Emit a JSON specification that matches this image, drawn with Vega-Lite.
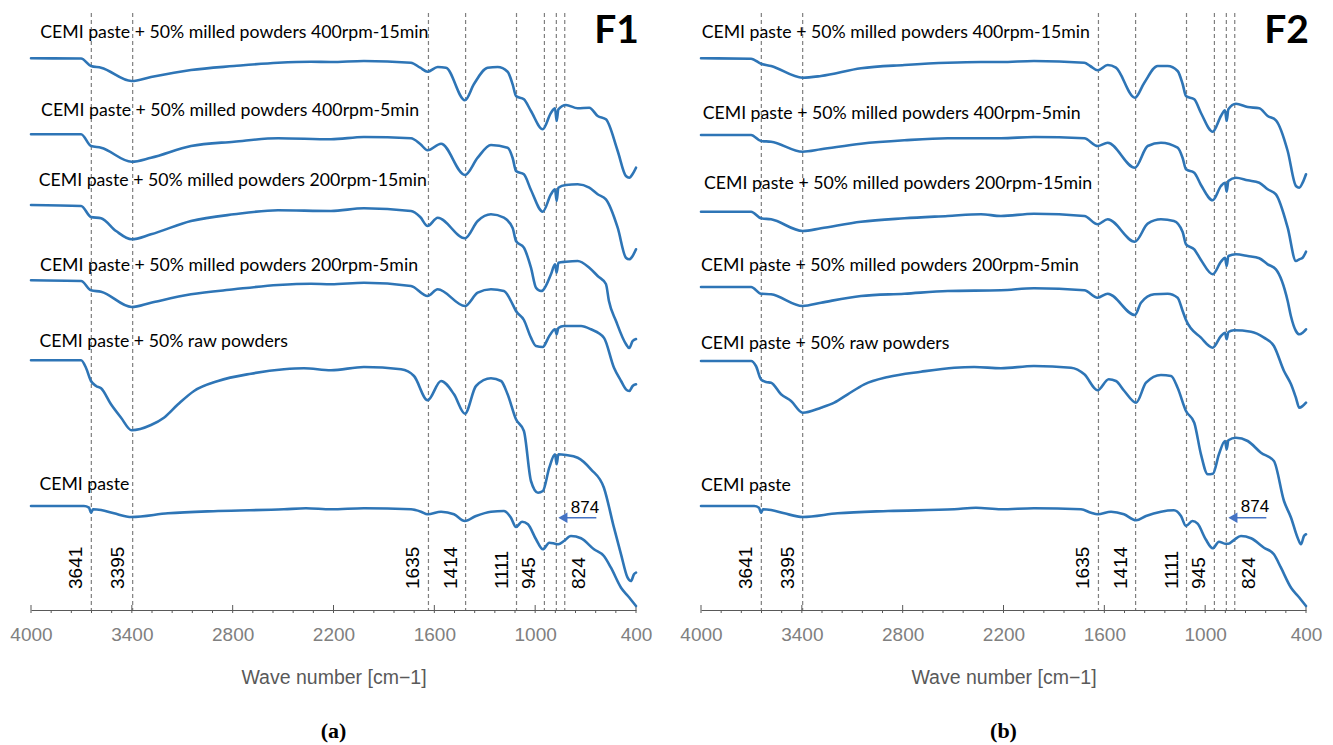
{
  "$schema": "https://vega.github.io/schema/vega-lite/v6.json",
  "background": "white",
  "padding": {"left": 9, "top": 12, "right": 5, "bottom": 3},
  "bounds": "flush",
  "spacing": 65,
  "config": {"view": {"stroke": null}, "axisX": {"grid": false, "labelOverlap": false}},
  "datasets": {
    "peaks": [
      {"wn": 3641, "label": "3641", "side": "left"},
      {"wn": 3395, "label": "3395", "side": "left"},
      {"wn": 1635, "label": "1635", "side": "left"},
      {"wn": 1414, "label": "1414", "side": "left"},
      {"wn": 1111, "label": "1111", "side": "left"},
      {"wn": 945, "label": "945", "side": "left"},
      {"wn": 874, "label": "874", "side": "arrow", "head": 835, "tail": 636},
      {"wn": 824, "label": "824", "side": "right"}
    ],
    "ticks": [
      {"wn": 4000, "major": true}, {"wn": 3880, "major": false}, {"wn": 3760, "major": false}, {"wn": 3640, "major": false}, {"wn": 3520, "major": false},
      {"wn": 3400, "major": true}, {"wn": 3280, "major": false}, {"wn": 3160, "major": false}, {"wn": 3040, "major": false}, {"wn": 2920, "major": false},
      {"wn": 2800, "major": true}, {"wn": 2680, "major": false}, {"wn": 2560, "major": false}, {"wn": 2440, "major": false}, {"wn": 2320, "major": false},
      {"wn": 2200, "major": true}, {"wn": 2080, "major": false}, {"wn": 1960, "major": false}, {"wn": 1840, "major": false}, {"wn": 1720, "major": false},
      {"wn": 1600, "major": true}, {"wn": 1480, "major": false}, {"wn": 1360, "major": false}, {"wn": 1240, "major": false}, {"wn": 1120, "major": false},
      {"wn": 1000, "major": true}, {"wn": 880, "major": false}, {"wn": 760, "major": false}, {"wn": 640, "major": false}, {"wn": 520, "major": false},
      {"wn": 400, "major": true}
    ],
    "labels": [
      {"panel": "F1", "text": "CEMI paste + 50% milled powders 400rpm-15min", "wn": 3945, "T": 577.3},
      {"panel": "F1", "text": "CEMI paste + 50% milled powders 400rpm-5min", "wn": 3940, "T": 499},
      {"panel": "F1", "text": "CEMI paste + 50% milled powders 200rpm-15min", "wn": 3954, "T": 429},
      {"panel": "F1", "text": "CEMI paste + 50% milled powders 200rpm-5min", "wn": 3946, "T": 344},
      {"panel": "F1", "text": "CEMI paste + 50% raw powders", "wn": 3950, "T": 268.3},
      {"panel": "F1", "text": "CEMI paste", "wn": 3950, "T": 124.7},
      {"panel": "F2", "text": "CEMI paste + 50% milled powders 400rpm-15min", "wn": 3996, "T": 576.7},
      {"panel": "F2", "text": "CEMI paste + 50% milled powders 400rpm-5min", "wn": 3990, "T": 495.7},
      {"panel": "F2", "text": "CEMI paste + 50% milled powders 200rpm-15min", "wn": 3982, "T": 426.3},
      {"panel": "F2", "text": "CEMI paste + 50% milled powders 200rpm-5min", "wn": 4000, "T": 344},
      {"panel": "F2", "text": "CEMI paste + 50% raw powders", "wn": 4000, "T": 266.3},
      {"panel": "F2", "text": "CEMI paste", "wn": 4000, "T": 124}
    ],
    "tags": [
      {"panel": "F1", "text": "F1", "wn": 400, "T": 579},
      {"panel": "F2", "text": "F2", "wn": 400, "T": 579}
    ],
    "spectra": [
      {"panel":"F1","sample":"400rpm-15min","wn":4000,"T":551.7},{"panel":"F1","sample":"400rpm-15min","wn":3702,"T":551.5},{"panel":"F1","sample":"400rpm-15min","wn":3643,"T":544},{"panel":"F1","sample":"400rpm-15min","wn":3583,"T":542.3},{"panel":"F1","sample":"400rpm-15min","wn":3401,"T":529},{"panel":"F1","sample":"400rpm-15min","wn":3286,"T":533},{"panel":"F1","sample":"400rpm-15min","wn":3048,"T":540},{"panel":"F1","sample":"400rpm-15min","wn":2792,"T":544},{"panel":"F1","sample":"400rpm-15min","wn":2530,"T":547.3},{"panel":"F1","sample":"400rpm-15min","wn":2334,"T":548.3},{"panel":"F1","sample":"400rpm-15min","wn":2215,"T":548},{"panel":"F1","sample":"400rpm-15min","wn":2019,"T":549},{"panel":"F1","sample":"400rpm-15min","wn":1739,"T":547.3},{"panel":"F1","sample":"400rpm-15min","wn":1684,"T":542.3},{"panel":"F1","sample":"400rpm-15min","wn":1640,"T":538.3},{"panel":"F1","sample":"400rpm-15min","wn":1580,"T":543},{"panel":"F1","sample":"400rpm-15min","wn":1531,"T":542.3},{"panel":"F1","sample":"400rpm-15min","wn":1418,"T":509.7},{"panel":"F1","sample":"400rpm-15min","wn":1364,"T":526},{"panel":"F1","sample":"400rpm-15min","wn":1283,"T":542.3},{"panel":"F1","sample":"400rpm-15min","wn":1223,"T":543},{"panel":"F1","sample":"400rpm-15min","wn":1164,"T":538.3},{"panel":"F1","sample":"400rpm-15min","wn":1134,"T":525.7},{"panel":"F1","sample":"400rpm-15min","wn":1114,"T":514},{"panel":"F1","sample":"400rpm-15min","wn":1067,"T":510.7},{"panel":"F1","sample":"400rpm-15min","wn":1025,"T":499},{"panel":"F1","sample":"400rpm-15min","wn":955,"T":480.7},{"panel":"F1","sample":"400rpm-15min","wn":906,"T":497.3},{"panel":"F1","sample":"400rpm-15min","wn":882,"T":501.7},{"panel":"F1","sample":"400rpm-15min","wn":872,"T":489},{"panel":"F1","sample":"400rpm-15min","wn":862,"T":500.7},{"panel":"F1","sample":"400rpm-15min","wn":817,"T":505},{"panel":"F1","sample":"400rpm-15min","wn":747,"T":501.7},{"panel":"F1","sample":"400rpm-15min","wn":678,"T":502.3},{"panel":"F1","sample":"400rpm-15min","wn":628,"T":494},{"panel":"F1","sample":"400rpm-15min","wn":579,"T":490.7},{"panel":"F1","sample":"400rpm-15min","wn":509,"T":459},{"panel":"F1","sample":"400rpm-15min","wn":460,"T":434},{"panel":"F1","sample":"400rpm-15min","wn":440,"T":432.3},{"panel":"F1","sample":"400rpm-15min","wn":420,"T":436},{"panel":"F1","sample":"400rpm-15min","wn":400,"T":442.3},
      {"panel":"F1","sample":"400rpm-5min","wn":4000,"T":475.7},{"panel":"F1","sample":"400rpm-5min","wn":3702,"T":475.7},{"panel":"F1","sample":"400rpm-5min","wn":3643,"T":464},{"panel":"F1","sample":"400rpm-5min","wn":3583,"T":462.3},{"panel":"F1","sample":"400rpm-5min","wn":3401,"T":448.3},{"panel":"F1","sample":"400rpm-5min","wn":3286,"T":452.3},{"panel":"F1","sample":"400rpm-5min","wn":3048,"T":464},{"panel":"F1","sample":"400rpm-5min","wn":2792,"T":468.3},{"panel":"F1","sample":"400rpm-5min","wn":2530,"T":471.7},{"panel":"F1","sample":"400rpm-5min","wn":2215,"T":470.7},{"panel":"F1","sample":"400rpm-5min","wn":2019,"T":473},{"panel":"F1","sample":"400rpm-5min","wn":1739,"T":471.7},{"panel":"F1","sample":"400rpm-5min","wn":1684,"T":466},{"panel":"F1","sample":"400rpm-5min","wn":1640,"T":459.7},{"panel":"F1","sample":"400rpm-5min","wn":1560,"T":466.3},{"panel":"F1","sample":"400rpm-5min","wn":1418,"T":435},{"panel":"F1","sample":"400rpm-5min","wn":1342,"T":452.3},{"panel":"F1","sample":"400rpm-5min","wn":1263,"T":465},{"panel":"F1","sample":"400rpm-5min","wn":1164,"T":462.3},{"panel":"F1","sample":"400rpm-5min","wn":1134,"T":452},{"panel":"F1","sample":"400rpm-5min","wn":1114,"T":439},{"panel":"F1","sample":"400rpm-5min","wn":1067,"T":435.7},{"panel":"F1","sample":"400rpm-5min","wn":1025,"T":420},{"panel":"F1","sample":"400rpm-5min","wn":955,"T":398.3},{"panel":"F1","sample":"400rpm-5min","wn":906,"T":415.7},{"panel":"F1","sample":"400rpm-5min","wn":882,"T":420.7},{"panel":"F1","sample":"400rpm-5min","wn":872,"T":409},{"panel":"F1","sample":"400rpm-5min","wn":862,"T":422.3},{"panel":"F1","sample":"400rpm-5min","wn":817,"T":425},{"panel":"F1","sample":"400rpm-5min","wn":747,"T":425.7},{"panel":"F1","sample":"400rpm-5min","wn":678,"T":422.3},{"panel":"F1","sample":"400rpm-5min","wn":628,"T":415.7},{"panel":"F1","sample":"400rpm-5min","wn":579,"T":410.7},{"panel":"F1","sample":"400rpm-5min","wn":509,"T":382.3},{"panel":"F1","sample":"400rpm-5min","wn":460,"T":352.3},{"panel":"F1","sample":"400rpm-5min","wn":440,"T":350.7},{"panel":"F1","sample":"400rpm-5min","wn":420,"T":354},{"panel":"F1","sample":"400rpm-5min","wn":400,"T":360.7},
      {"panel":"F1","sample":"200rpm-15min","wn":4000,"T":405},{"panel":"F1","sample":"200rpm-15min","wn":3702,"T":404},{"panel":"F1","sample":"200rpm-15min","wn":3643,"T":393},{"panel":"F1","sample":"200rpm-15min","wn":3583,"T":391.7},{"panel":"F1","sample":"200rpm-15min","wn":3494,"T":379},{"panel":"F1","sample":"200rpm-15min","wn":3401,"T":370.7},{"panel":"F1","sample":"200rpm-15min","wn":3286,"T":375.7},{"panel":"F1","sample":"200rpm-15min","wn":3048,"T":389},{"panel":"F1","sample":"200rpm-15min","wn":2792,"T":395.7},{"panel":"F1","sample":"200rpm-15min","wn":2530,"T":399.7},{"panel":"F1","sample":"200rpm-15min","wn":2215,"T":399},{"panel":"F1","sample":"200rpm-15min","wn":2019,"T":401.7},{"panel":"F1","sample":"200rpm-15min","wn":1739,"T":399},{"panel":"F1","sample":"200rpm-15min","wn":1684,"T":393},{"panel":"F1","sample":"200rpm-15min","wn":1640,"T":384},{"panel":"F1","sample":"200rpm-15min","wn":1580,"T":392.3},{"panel":"F1","sample":"200rpm-15min","wn":1418,"T":371.7},{"panel":"F1","sample":"200rpm-15min","wn":1342,"T":389},{"panel":"F1","sample":"200rpm-15min","wn":1263,"T":395.7},{"panel":"F1","sample":"200rpm-15min","wn":1186,"T":392.3},{"panel":"F1","sample":"200rpm-15min","wn":1134,"T":382},{"panel":"F1","sample":"200rpm-15min","wn":1114,"T":369},{"panel":"F1","sample":"200rpm-15min","wn":1067,"T":362.3},{"panel":"F1","sample":"200rpm-15min","wn":1025,"T":342.3},{"panel":"F1","sample":"200rpm-15min","wn":995,"T":322.3},{"panel":"F1","sample":"200rpm-15min","wn":965,"T":319},{"panel":"F1","sample":"200rpm-15min","wn":954,"T":319.7},{"panel":"F1","sample":"200rpm-15min","wn":906,"T":335.7},{"panel":"F1","sample":"200rpm-15min","wn":882,"T":345.7},{"panel":"F1","sample":"200rpm-15min","wn":872,"T":337.3},{"panel":"F1","sample":"200rpm-15min","wn":862,"T":347.3},{"panel":"F1","sample":"200rpm-15min","wn":817,"T":348.3},{"panel":"F1","sample":"200rpm-15min","wn":747,"T":349},{"panel":"F1","sample":"200rpm-15min","wn":678,"T":342.3},{"panel":"F1","sample":"200rpm-15min","wn":628,"T":334},{"panel":"F1","sample":"200rpm-15min","wn":579,"T":326},{"panel":"F1","sample":"200rpm-15min","wn":561,"T":309},{"panel":"F1","sample":"200rpm-15min","wn":519,"T":289},{"panel":"F1","sample":"200rpm-15min","wn":460,"T":266},{"panel":"F1","sample":"200rpm-15min","wn":440,"T":262},{"panel":"F1","sample":"200rpm-15min","wn":420,"T":269},{"panel":"F1","sample":"200rpm-15min","wn":400,"T":271},
      {"panel":"F1","sample":"200rpm-5min","wn":4000,"T":329.7},{"panel":"F1","sample":"200rpm-5min","wn":3702,"T":329},{"panel":"F1","sample":"200rpm-5min","wn":3643,"T":319.7},{"panel":"F1","sample":"200rpm-5min","wn":3583,"T":318.3},{"panel":"F1","sample":"200rpm-5min","wn":3401,"T":303},{"panel":"F1","sample":"200rpm-5min","wn":3286,"T":307.3},{"panel":"F1","sample":"200rpm-5min","wn":3048,"T":315.7},{"panel":"F1","sample":"200rpm-5min","wn":2792,"T":320.7},{"panel":"F1","sample":"200rpm-5min","wn":2530,"T":325},{"panel":"F1","sample":"200rpm-5min","wn":2334,"T":326.3},{"panel":"F1","sample":"200rpm-5min","wn":2215,"T":325.7},{"panel":"F1","sample":"200rpm-5min","wn":2019,"T":327.3},{"panel":"F1","sample":"200rpm-5min","wn":1739,"T":324},{"panel":"F1","sample":"200rpm-5min","wn":1640,"T":314},{"panel":"F1","sample":"200rpm-5min","wn":1580,"T":320.7},{"panel":"F1","sample":"200rpm-5min","wn":1418,"T":304},{"panel":"F1","sample":"200rpm-5min","wn":1342,"T":317.3},{"panel":"F1","sample":"200rpm-5min","wn":1263,"T":320.7},{"panel":"F1","sample":"200rpm-5min","wn":1186,"T":319},{"panel":"F1","sample":"200rpm-5min","wn":1134,"T":305.7},{"panel":"F1","sample":"200rpm-5min","wn":1114,"T":299},{"panel":"F1","sample":"200rpm-5min","wn":1067,"T":290},{"panel":"F1","sample":"200rpm-5min","wn":1025,"T":272.3},{"panel":"F1","sample":"200rpm-5min","wn":995,"T":264},{"panel":"F1","sample":"200rpm-5min","wn":955,"T":263},{"panel":"F1","sample":"200rpm-5min","wn":916,"T":274},{"panel":"F1","sample":"200rpm-5min","wn":882,"T":280.7},{"panel":"F1","sample":"200rpm-5min","wn":872,"T":275.7},{"panel":"F1","sample":"200rpm-5min","wn":862,"T":282},{"panel":"F1","sample":"200rpm-5min","wn":829,"T":284},{"panel":"F1","sample":"200rpm-5min","wn":727,"T":284},{"panel":"F1","sample":"200rpm-5min","wn":668,"T":280.7},{"panel":"F1","sample":"200rpm-5min","wn":591,"T":272.3},{"panel":"F1","sample":"200rpm-5min","wn":531,"T":242.3},{"panel":"F1","sample":"200rpm-5min","wn":489,"T":229},{"panel":"F1","sample":"200rpm-5min","wn":460,"T":220.7},{"panel":"F1","sample":"200rpm-5min","wn":440,"T":219},{"panel":"F1","sample":"200rpm-5min","wn":420,"T":224},{"panel":"F1","sample":"200rpm-5min","wn":400,"T":225.7},
      {"panel":"F1","sample":"raw","wn":4000,"T":249.7},{"panel":"F1","sample":"raw","wn":3702,"T":249.7},{"panel":"F1","sample":"raw","wn":3673,"T":242.3},{"panel":"F1","sample":"raw","wn":3643,"T":229},{"panel":"F1","sample":"raw","wn":3613,"T":224},{"panel":"F1","sample":"raw","wn":3583,"T":221.7},{"panel":"F1","sample":"raw","wn":3524,"T":205.7},{"panel":"F1","sample":"raw","wn":3464,"T":192.3},{"panel":"F1","sample":"raw","wn":3401,"T":179.7},{"panel":"F1","sample":"raw","wn":3286,"T":185},{"panel":"F1","sample":"raw","wn":3209,"T":192.3},{"panel":"F1","sample":"raw","wn":3125,"T":205.7},{"panel":"F1","sample":"raw","wn":3030,"T":219},{"panel":"F1","sample":"raw","wn":2887,"T":229},{"panel":"F1","sample":"raw","wn":2691,"T":236.3},{"panel":"F1","sample":"raw","wn":2495,"T":240.7},{"panel":"F1","sample":"raw","wn":2376,"T":241.7},{"panel":"F1","sample":"raw","wn":2215,"T":239.7},{"panel":"F1","sample":"raw","wn":2019,"T":243},{"panel":"F1","sample":"raw","wn":1798,"T":240.7},{"panel":"F1","sample":"raw","wn":1721,"T":234},{"panel":"F1","sample":"raw","wn":1640,"T":209.7},{"panel":"F1","sample":"raw","wn":1560,"T":229},{"panel":"F1","sample":"raw","wn":1483,"T":215.7},{"panel":"F1","sample":"raw","wn":1418,"T":196.3},{"panel":"F1","sample":"raw","wn":1352,"T":224},{"panel":"F1","sample":"raw","wn":1263,"T":231.7},{"panel":"F1","sample":"raw","wn":1203,"T":229},{"panel":"F1","sample":"raw","wn":1164,"T":215.7},{"panel":"F1","sample":"raw","wn":1114,"T":190.7},{"panel":"F1","sample":"raw","wn":1067,"T":179},{"panel":"F1","sample":"raw","wn":1025,"T":129},{"panel":"F1","sample":"raw","wn":983,"T":117.3},{"panel":"F1","sample":"raw","wn":954,"T":119},{"panel":"F1","sample":"raw","wn":916,"T":142.3},{"panel":"F1","sample":"raw","wn":882,"T":155.7},{"panel":"F1","sample":"raw","wn":872,"T":145.7},{"panel":"F1","sample":"raw","wn":862,"T":155.7},{"panel":"F1","sample":"raw","wn":817,"T":155},{"panel":"F1","sample":"raw","wn":747,"T":152.3},{"panel":"F1","sample":"raw","wn":668,"T":140.7},{"panel":"F1","sample":"raw","wn":591,"T":122.3},{"panel":"F1","sample":"raw","wn":531,"T":82.3},{"panel":"F1","sample":"raw","wn":489,"T":55.7},{"panel":"F1","sample":"raw","wn":450,"T":32.3},{"panel":"F1","sample":"raw","wn":430,"T":29},{"panel":"F1","sample":"raw","wn":412,"T":35.7},{"panel":"F1","sample":"raw","wn":400,"T":37.3},
      {"panel":"F1","sample":"CEMI","wn":4000,"T":104},{"panel":"F1","sample":"CEMI","wn":3685,"T":104},{"panel":"F1","sample":"CEMI","wn":3655,"T":102.3},{"panel":"F1","sample":"CEMI","wn":3643,"T":97.3},{"panel":"F1","sample":"CEMI","wn":3631,"T":100.7},{"panel":"F1","sample":"CEMI","wn":3583,"T":100},{"panel":"F1","sample":"CEMI","wn":3506,"T":96.7},{"panel":"F1","sample":"CEMI","wn":3401,"T":93},{"panel":"F1","sample":"CEMI","wn":3185,"T":96.7},{"panel":"F1","sample":"CEMI","wn":2887,"T":99},{"panel":"F1","sample":"CEMI","wn":2495,"T":100.7},{"panel":"F1","sample":"CEMI","wn":2364,"T":101.7},{"panel":"F1","sample":"CEMI","wn":2215,"T":100.7},{"panel":"F1","sample":"CEMI","wn":2019,"T":101.7},{"panel":"F1","sample":"CEMI","wn":1739,"T":100.7},{"panel":"F1","sample":"CEMI","wn":1679,"T":98.3},{"panel":"F1","sample":"CEMI","wn":1640,"T":95.7},{"panel":"F1","sample":"CEMI","wn":1560,"T":98.3},{"panel":"F1","sample":"CEMI","wn":1483,"T":95.7},{"panel":"F1","sample":"CEMI","wn":1418,"T":89},{"panel":"F1","sample":"CEMI","wn":1352,"T":94},{"panel":"F1","sample":"CEMI","wn":1263,"T":98.3},{"panel":"F1","sample":"CEMI","wn":1186,"T":99},{"panel":"F1","sample":"CEMI","wn":1144,"T":92.3},{"panel":"F1","sample":"CEMI","wn":1114,"T":83},{"panel":"F1","sample":"CEMI","wn":1078,"T":88.3},{"panel":"F1","sample":"CEMI","wn":1043,"T":85.7},{"panel":"F1","sample":"CEMI","wn":995,"T":70.7},{"panel":"F1","sample":"CEMI","wn":954,"T":60.7},{"panel":"F1","sample":"CEMI","wn":916,"T":67.3},{"panel":"F1","sample":"CEMI","wn":882,"T":66.3},{"panel":"F1","sample":"CEMI","wn":862,"T":65.7},{"panel":"F1","sample":"CEMI","wn":829,"T":69},{"panel":"F1","sample":"CEMI","wn":787,"T":74},{"panel":"F1","sample":"CEMI","wn":727,"T":71.7},{"panel":"F1","sample":"CEMI","wn":650,"T":60.7},{"panel":"F1","sample":"CEMI","wn":591,"T":54},{"panel":"F1","sample":"CEMI","wn":549,"T":42.3},{"panel":"F1","sample":"CEMI","wn":489,"T":22.3},{"panel":"F1","sample":"CEMI","wn":448,"T":14},{"panel":"F1","sample":"CEMI","wn":400,"T":4},
      {"panel":"F2","sample":"400rpm-15min","wn":4000,"T":551.7},{"panel":"F2","sample":"400rpm-15min","wn":3702,"T":551.3},{"panel":"F2","sample":"400rpm-15min","wn":3643,"T":546.3},{"panel":"F2","sample":"400rpm-15min","wn":3583,"T":544},{"panel":"F2","sample":"400rpm-15min","wn":3395,"T":532.3},{"panel":"F2","sample":"400rpm-15min","wn":3286,"T":534},{"panel":"F2","sample":"400rpm-15min","wn":3048,"T":541.7},{"panel":"F2","sample":"400rpm-15min","wn":2790,"T":545},{"panel":"F2","sample":"400rpm-15min","wn":2532,"T":547.3},{"panel":"F2","sample":"400rpm-15min","wn":2334,"T":548},{"panel":"F2","sample":"400rpm-15min","wn":2215,"T":548},{"panel":"F2","sample":"400rpm-15min","wn":2019,"T":549},{"panel":"F2","sample":"400rpm-15min","wn":1719,"T":547.3},{"panel":"F2","sample":"400rpm-15min","wn":1684,"T":544},{"panel":"F2","sample":"400rpm-15min","wn":1640,"T":539.7},{"panel":"F2","sample":"400rpm-15min","wn":1580,"T":545},{"panel":"F2","sample":"400rpm-15min","wn":1531,"T":542.3},{"panel":"F2","sample":"400rpm-15min","wn":1418,"T":512.3},{"panel":"F2","sample":"400rpm-15min","wn":1362,"T":527.3},{"panel":"F2","sample":"400rpm-15min","wn":1283,"T":544},{"panel":"F2","sample":"400rpm-15min","wn":1223,"T":544},{"panel":"F2","sample":"400rpm-15min","wn":1164,"T":539},{"panel":"F2","sample":"400rpm-15min","wn":1134,"T":526},{"panel":"F2","sample":"400rpm-15min","wn":1114,"T":514},{"panel":"F2","sample":"400rpm-15min","wn":1065,"T":510.7},{"panel":"F2","sample":"400rpm-15min","wn":1025,"T":497},{"panel":"F2","sample":"400rpm-15min","wn":955,"T":478.3},{"panel":"F2","sample":"400rpm-15min","wn":906,"T":494},{"panel":"F2","sample":"400rpm-15min","wn":882,"T":499.7},{"panel":"F2","sample":"400rpm-15min","wn":872,"T":489},{"panel":"F2","sample":"400rpm-15min","wn":862,"T":500.7},{"panel":"F2","sample":"400rpm-15min","wn":817,"T":506.3},{"panel":"F2","sample":"400rpm-15min","wn":747,"T":503},{"panel":"F2","sample":"400rpm-15min","wn":678,"T":501.7},{"panel":"F2","sample":"400rpm-15min","wn":628,"T":494},{"panel":"F2","sample":"400rpm-15min","wn":579,"T":489.7},{"panel":"F2","sample":"400rpm-15min","wn":509,"T":459},{"panel":"F2","sample":"400rpm-15min","wn":460,"T":424},{"panel":"F2","sample":"400rpm-15min","wn":440,"T":422.3},{"panel":"F2","sample":"400rpm-15min","wn":420,"T":427.3},{"panel":"F2","sample":"400rpm-15min","wn":400,"T":435.7},
      {"panel":"F2","sample":"400rpm-5min","wn":4000,"T":475},{"panel":"F2","sample":"400rpm-5min","wn":3702,"T":475},{"panel":"F2","sample":"400rpm-5min","wn":3643,"T":469},{"panel":"F2","sample":"400rpm-5min","wn":3583,"T":468.3},{"panel":"F2","sample":"400rpm-5min","wn":3395,"T":458.3},{"panel":"F2","sample":"400rpm-5min","wn":3286,"T":460.7},{"panel":"F2","sample":"400rpm-5min","wn":3048,"T":466.3},{"panel":"F2","sample":"400rpm-5min","wn":2790,"T":469.7},{"panel":"F2","sample":"400rpm-5min","wn":2532,"T":471.7},{"panel":"F2","sample":"400rpm-5min","wn":2215,"T":471.7},{"panel":"F2","sample":"400rpm-5min","wn":2019,"T":473},{"panel":"F2","sample":"400rpm-5min","wn":1719,"T":471.7},{"panel":"F2","sample":"400rpm-5min","wn":1640,"T":464},{"panel":"F2","sample":"400rpm-5min","wn":1580,"T":467.3},{"panel":"F2","sample":"400rpm-5min","wn":1418,"T":442.3},{"panel":"F2","sample":"400rpm-5min","wn":1342,"T":464},{"panel":"F2","sample":"400rpm-5min","wn":1263,"T":467.3},{"panel":"F2","sample":"400rpm-5min","wn":1164,"T":462.3},{"panel":"F2","sample":"400rpm-5min","wn":1134,"T":452},{"panel":"F2","sample":"400rpm-5min","wn":1114,"T":440.7},{"panel":"F2","sample":"400rpm-5min","wn":1065,"T":437.3},{"panel":"F2","sample":"400rpm-5min","wn":1025,"T":425},{"panel":"F2","sample":"400rpm-5min","wn":955,"T":409.7},{"panel":"F2","sample":"400rpm-5min","wn":906,"T":424},{"panel":"F2","sample":"400rpm-5min","wn":882,"T":427.3},{"panel":"F2","sample":"400rpm-5min","wn":872,"T":418.3},{"panel":"F2","sample":"400rpm-5min","wn":862,"T":429},{"panel":"F2","sample":"400rpm-5min","wn":817,"T":432.3},{"panel":"F2","sample":"400rpm-5min","wn":747,"T":429.7},{"panel":"F2","sample":"400rpm-5min","wn":678,"T":427.3},{"panel":"F2","sample":"400rpm-5min","wn":628,"T":420.7},{"panel":"F2","sample":"400rpm-5min","wn":579,"T":415.7},{"panel":"F2","sample":"400rpm-5min","wn":509,"T":382.3},{"panel":"F2","sample":"400rpm-5min","wn":460,"T":349},{"panel":"F2","sample":"400rpm-5min","wn":440,"T":350.7},{"panel":"F2","sample":"400rpm-5min","wn":420,"T":352.3},{"panel":"F2","sample":"400rpm-5min","wn":400,"T":358.3},
      {"panel":"F2","sample":"200rpm-15min","wn":4000,"T":398.3},{"panel":"F2","sample":"200rpm-15min","wn":3702,"T":398.3},{"panel":"F2","sample":"200rpm-15min","wn":3643,"T":391.7},{"panel":"F2","sample":"200rpm-15min","wn":3583,"T":390.7},{"panel":"F2","sample":"200rpm-15min","wn":3395,"T":379},{"panel":"F2","sample":"200rpm-15min","wn":3286,"T":381.7},{"panel":"F2","sample":"200rpm-15min","wn":3048,"T":388.3},{"panel":"F2","sample":"200rpm-15min","wn":2790,"T":391.7},{"panel":"F2","sample":"200rpm-15min","wn":2532,"T":394},{"panel":"F2","sample":"200rpm-15min","wn":2334,"T":395.7},{"panel":"F2","sample":"200rpm-15min","wn":2215,"T":394},{"panel":"F2","sample":"200rpm-15min","wn":2019,"T":396.3},{"panel":"F2","sample":"200rpm-15min","wn":1719,"T":394},{"panel":"F2","sample":"200rpm-15min","wn":1640,"T":385.7},{"panel":"F2","sample":"200rpm-15min","wn":1580,"T":390.7},{"panel":"F2","sample":"200rpm-15min","wn":1418,"T":368.3},{"panel":"F2","sample":"200rpm-15min","wn":1342,"T":386.3},{"panel":"F2","sample":"200rpm-15min","wn":1263,"T":390.7},{"panel":"F2","sample":"200rpm-15min","wn":1186,"T":389},{"panel":"F2","sample":"200rpm-15min","wn":1134,"T":378},{"panel":"F2","sample":"200rpm-15min","wn":1114,"T":365.7},{"panel":"F2","sample":"200rpm-15min","wn":1065,"T":360.7},{"panel":"F2","sample":"200rpm-15min","wn":1025,"T":350},{"panel":"F2","sample":"200rpm-15min","wn":955,"T":335.7},{"panel":"F2","sample":"200rpm-15min","wn":906,"T":348.3},{"panel":"F2","sample":"200rpm-15min","wn":882,"T":352.3},{"panel":"F2","sample":"200rpm-15min","wn":872,"T":344},{"panel":"F2","sample":"200rpm-15min","wn":862,"T":354},{"panel":"F2","sample":"200rpm-15min","wn":817,"T":355.7},{"panel":"F2","sample":"200rpm-15min","wn":747,"T":354},{"panel":"F2","sample":"200rpm-15min","wn":678,"T":351.7},{"panel":"F2","sample":"200rpm-15min","wn":628,"T":345.7},{"panel":"F2","sample":"200rpm-15min","wn":579,"T":340.7},{"panel":"F2","sample":"200rpm-15min","wn":509,"T":309},{"panel":"F2","sample":"200rpm-15min","wn":490,"T":294},{"panel":"F2","sample":"200rpm-15min","wn":460,"T":279},{"panel":"F2","sample":"200rpm-15min","wn":440,"T":275.7},{"panel":"F2","sample":"200rpm-15min","wn":420,"T":277.3},{"panel":"F2","sample":"200rpm-15min","wn":400,"T":280.7},
      {"panel":"F2","sample":"200rpm-5min","wn":4000,"T":323},{"panel":"F2","sample":"200rpm-5min","wn":3702,"T":323},{"panel":"F2","sample":"200rpm-5min","wn":3643,"T":316.3},{"panel":"F2","sample":"200rpm-5min","wn":3583,"T":315.7},{"panel":"F2","sample":"200rpm-5min","wn":3395,"T":304},{"panel":"F2","sample":"200rpm-5min","wn":3286,"T":307.3},{"panel":"F2","sample":"200rpm-5min","wn":3048,"T":314},{"panel":"F2","sample":"200rpm-5min","wn":2790,"T":316.3},{"panel":"F2","sample":"200rpm-5min","wn":2532,"T":319},{"panel":"F2","sample":"200rpm-5min","wn":2215,"T":319.7},{"panel":"F2","sample":"200rpm-5min","wn":2019,"T":321.7},{"panel":"F2","sample":"200rpm-5min","wn":1719,"T":319.7},{"panel":"F2","sample":"200rpm-5min","wn":1640,"T":312.3},{"panel":"F2","sample":"200rpm-5min","wn":1580,"T":316.3},{"panel":"F2","sample":"200rpm-5min","wn":1418,"T":295},{"panel":"F2","sample":"200rpm-5min","wn":1382,"T":307.3},{"panel":"F2","sample":"200rpm-5min","wn":1303,"T":315.7},{"panel":"F2","sample":"200rpm-5min","wn":1223,"T":316.3},{"panel":"F2","sample":"200rpm-5min","wn":1164,"T":312.3},{"panel":"F2","sample":"200rpm-5min","wn":1134,"T":299},{"panel":"F2","sample":"200rpm-5min","wn":1114,"T":290},{"panel":"F2","sample":"200rpm-5min","wn":1025,"T":272.3},{"panel":"F2","sample":"200rpm-5min","wn":955,"T":262.3},{"panel":"F2","sample":"200rpm-5min","wn":906,"T":274},{"panel":"F2","sample":"200rpm-5min","wn":882,"T":277.3},{"panel":"F2","sample":"200rpm-5min","wn":872,"T":270.7},{"panel":"F2","sample":"200rpm-5min","wn":862,"T":278},{"panel":"F2","sample":"200rpm-5min","wn":829,"T":279.7},{"panel":"F2","sample":"200rpm-5min","wn":727,"T":278.3},{"panel":"F2","sample":"200rpm-5min","wn":650,"T":272.3},{"panel":"F2","sample":"200rpm-5min","wn":591,"T":264},{"panel":"F2","sample":"200rpm-5min","wn":531,"T":239},{"panel":"F2","sample":"200rpm-5min","wn":489,"T":225.7},{"panel":"F2","sample":"200rpm-5min","wn":460,"T":212.3},{"panel":"F2","sample":"200rpm-5min","wn":440,"T":202.3},{"panel":"F2","sample":"200rpm-5min","wn":420,"T":204},{"panel":"F2","sample":"200rpm-5min","wn":400,"T":207.3},
      {"panel":"F2","sample":"raw","wn":4000,"T":249},{"panel":"F2","sample":"raw","wn":3702,"T":249},{"panel":"F2","sample":"raw","wn":3673,"T":244},{"panel":"F2","sample":"raw","wn":3643,"T":230.7},{"panel":"F2","sample":"raw","wn":3613,"T":228},{"panel":"F2","sample":"raw","wn":3583,"T":227.3},{"panel":"F2","sample":"raw","wn":3524,"T":215.7},{"panel":"F2","sample":"raw","wn":3464,"T":209},{"panel":"F2","sample":"raw","wn":3395,"T":197.3},{"panel":"F2","sample":"raw","wn":3286,"T":202.3},{"panel":"F2","sample":"raw","wn":3207,"T":207.3},{"panel":"F2","sample":"raw","wn":3127,"T":215.7},{"panel":"F2","sample":"raw","wn":3028,"T":225.7},{"panel":"F2","sample":"raw","wn":2887,"T":233},{"panel":"F2","sample":"raw","wn":2691,"T":238.3},{"panel":"F2","sample":"raw","wn":2493,"T":242.3},{"panel":"F2","sample":"raw","wn":2374,"T":243},{"panel":"F2","sample":"raw","wn":2215,"T":241.7},{"panel":"F2","sample":"raw","wn":2019,"T":244},{"panel":"F2","sample":"raw","wn":1798,"T":242.3},{"panel":"F2","sample":"raw","wn":1719,"T":235.7},{"panel":"F2","sample":"raw","wn":1640,"T":219.7},{"panel":"F2","sample":"raw","wn":1574,"T":230.7},{"panel":"F2","sample":"raw","wn":1531,"T":229},{"panel":"F2","sample":"raw","wn":1481,"T":219},{"panel":"F2","sample":"raw","wn":1411,"T":207.3},{"panel":"F2","sample":"raw","wn":1352,"T":227.3},{"panel":"F2","sample":"raw","wn":1263,"T":235},{"panel":"F2","sample":"raw","wn":1203,"T":234},{"panel":"F2","sample":"raw","wn":1164,"T":222.3},{"panel":"F2","sample":"raw","wn":1114,"T":199},{"panel":"F2","sample":"raw","wn":1065,"T":187.3},{"panel":"F2","sample":"raw","wn":1025,"T":155.7},{"panel":"F2","sample":"raw","wn":985,"T":135.7},{"panel":"F2","sample":"raw","wn":954,"T":136.3},{"panel":"F2","sample":"raw","wn":918,"T":155.7},{"panel":"F2","sample":"raw","wn":882,"T":169},{"panel":"F2","sample":"raw","wn":872,"T":160.7},{"panel":"F2","sample":"raw","wn":862,"T":169.7},{"panel":"F2","sample":"raw","wn":817,"T":172.3},{"panel":"F2","sample":"raw","wn":747,"T":169},{"panel":"F2","sample":"raw","wn":668,"T":157.3},{"panel":"F2","sample":"raw","wn":591,"T":149},{"panel":"F2","sample":"raw","wn":531,"T":109},{"panel":"F2","sample":"raw","wn":489,"T":92.3},{"panel":"F2","sample":"raw","wn":450,"T":72.3},{"panel":"F2","sample":"raw","wn":430,"T":65.7},{"panel":"F2","sample":"raw","wn":412,"T":74},{"panel":"F2","sample":"raw","wn":400,"T":75.7},
      {"panel":"F2","sample":"CEMI","wn":4000,"T":104},{"panel":"F2","sample":"CEMI","wn":3683,"T":104},{"panel":"F2","sample":"CEMI","wn":3655,"T":102.3},{"panel":"F2","sample":"CEMI","wn":3643,"T":97.3},{"panel":"F2","sample":"CEMI","wn":3631,"T":100.7},{"panel":"F2","sample":"CEMI","wn":3583,"T":100},{"panel":"F2","sample":"CEMI","wn":3504,"T":96.7},{"panel":"F2","sample":"CEMI","wn":3395,"T":93},{"panel":"F2","sample":"CEMI","wn":3187,"T":96.7},{"panel":"F2","sample":"CEMI","wn":2887,"T":99},{"panel":"F2","sample":"CEMI","wn":2493,"T":100.7},{"panel":"F2","sample":"CEMI","wn":2364,"T":102.3},{"panel":"F2","sample":"CEMI","wn":2215,"T":100.7},{"panel":"F2","sample":"CEMI","wn":2019,"T":101.7},{"panel":"F2","sample":"CEMI","wn":1739,"T":100.7},{"panel":"F2","sample":"CEMI","wn":1679,"T":97.3},{"panel":"F2","sample":"CEMI","wn":1640,"T":95.7},{"panel":"F2","sample":"CEMI","wn":1560,"T":98.3},{"panel":"F2","sample":"CEMI","wn":1483,"T":95.7},{"panel":"F2","sample":"CEMI","wn":1411,"T":89.7},{"panel":"F2","sample":"CEMI","wn":1352,"T":94},{"panel":"F2","sample":"CEMI","wn":1263,"T":98.3},{"panel":"F2","sample":"CEMI","wn":1186,"T":99.7},{"panel":"F2","sample":"CEMI","wn":1144,"T":94},{"panel":"F2","sample":"CEMI","wn":1114,"T":84},{"panel":"F2","sample":"CEMI","wn":1076,"T":89},{"panel":"F2","sample":"CEMI","wn":1045,"T":86.3},{"panel":"F2","sample":"CEMI","wn":997,"T":70.7},{"panel":"F2","sample":"CEMI","wn":955,"T":61.7},{"panel":"F2","sample":"CEMI","wn":918,"T":68.3},{"panel":"F2","sample":"CEMI","wn":882,"T":66.3},{"panel":"F2","sample":"CEMI","wn":862,"T":66.3},{"panel":"F2","sample":"CEMI","wn":831,"T":69.7},{"panel":"F2","sample":"CEMI","wn":787,"T":74},{"panel":"F2","sample":"CEMI","wn":727,"T":71.7},{"panel":"F2","sample":"CEMI","wn":650,"T":62.3},{"panel":"F2","sample":"CEMI","wn":591,"T":55.7},{"panel":"F2","sample":"CEMI","wn":549,"T":42.3},{"panel":"F2","sample":"CEMI","wn":489,"T":22.3},{"panel":"F2","sample":"CEMI","wn":448,"T":14},{"panel":"F2","sample":"CEMI","wn":400,"T":4}
    ]
  },
  "hconcat": [
    {
      "width": 605, "height": 597,
      "title": {"text": "(a)", "orient": "bottom", "anchor": "middle", "font": "Liberation Serif", "fontSize": 22, "fontWeight": "bold", "color": "#000000", "offset": 34},
      "layer": [
        {"data": {"name": "peaks"}, "mark": {"type": "rule", "strokeDash": [4, 3], "color": "#7f7f7f", "strokeWidth": 1.2},
         "encoding": {"x": {"field": "wn", "type": "quantitative", "scale": {"domain": [400, 4000], "reverse": true, "nice": false, "zero": false},
                 "axis": {"title": "Wave number [cm\u22121]", "titleFont": "Liberation Sans", "titleFontSize": 19.5, "titleFontWeight": "normal", "titleColor": "#595959", "titlePadding": 24,
                          "values": [4000, 3400, 2800, 2200, 1600, 1000, 400], "format": "d",
                          "labelFont": "Liberation Sans", "labelFontSize": 19, "labelColor": "#808080", "labelPadding": 15, "labelFlush": false, "labelOverlap": false,
                          "ticks": false, "domainColor": "#595959", "grid": false}}}},
        {"data": {"name": "ticks"},
         "mark": {"type": "tick", "orient": "vertical", "color": "#595959", "thickness": 1, "size": 3, "yOffset": 1.5, "opacity": 1},
         "encoding": {"x": {"field": "wn", "type": "quantitative", "scale": {"domain": [400, 4000], "reverse": true, "nice": false, "zero": false}},
                      "y": {"datum": 0, "type": "quantitative", "scale": {"domain": [0, 597], "nice": false, "zero": false}, "axis": null}}},
        {"data": {"name": "ticks"}, "transform": [{"filter": "datum.major"}],
         "mark": {"type": "tick", "orient": "vertical", "color": "#595959", "thickness": 1, "size": 5, "yOffset": -2.5, "opacity": 1},
         "encoding": {"x": {"field": "wn", "type": "quantitative", "scale": {"domain": [400, 4000], "reverse": true, "nice": false, "zero": false}},
                      "y": {"datum": 0, "type": "quantitative", "scale": {"domain": [0, 597], "nice": false, "zero": false}, "axis": null}}},
        {"data": {"name": "spectra"}, "transform": [{"filter": "datum.panel == 'F1'"}],
         "mark": {"type": "line", "color": "#2e75b6", "strokeWidth": 2.6, "strokeJoin": "round", "strokeCap": "round", "interpolate": "monotone"},
         "encoding": {
           "x": {"field": "wn", "type": "quantitative", "scale": {"domain": [400, 4000], "reverse": true, "nice": false, "zero": false}},
           "y": {"field": "T", "type": "quantitative", "scale": {"domain": [0, 597], "nice": false, "zero": false}, "axis": null},
           "detail": {"field": "sample"}
         }},
        {"data": {"name": "labels"}, "transform": [{"filter": "datum.panel == 'F1'"}],
         "mark": {"type": "text", "align": "left", "baseline": "middle", "font": "Lato", "fontSize": 17.7, "color": "#000000"},
         "encoding": {"x": {"field": "wn", "type": "quantitative", "scale": {"domain": [400, 4000], "reverse": true, "nice": false, "zero": false}},
                      "y": {"field": "T", "type": "quantitative", "scale": {"domain": [0, 597], "nice": false, "zero": false}, "axis": null},
                      "text": {"field": "text"}}},
        {"data": {"name": "tags"}, "transform": [{"filter": "datum.panel == 'F1'"}],
         "mark": {"type": "text", "align": "right", "baseline": "middle", "dx": 3, "font": "Lato", "fontSize": 39, "fontWeight": "bold", "color": "#000000"},
         "encoding": {"x": {"field": "wn", "type": "quantitative", "scale": {"domain": [400, 4000], "reverse": true, "nice": false, "zero": false}},
                      "y": {"field": "T", "type": "quantitative", "scale": {"domain": [0, 597], "nice": false, "zero": false}, "axis": null},
                      "text": {"field": "text"}}},
        {"data": {"name": "peaks"}, "transform": [{"filter": "datum.side == 'left'"}],
         "mark": {"type": "text", "angle": 270, "align": "left", "baseline": "alphabetic", "dy": -9, "font": "Liberation Sans Narrow, Liberation Sans", "fontSize": 19, "color": "#000000"},
         "encoding": {"x": {"field": "wn", "type": "quantitative", "scale": {"domain": [400, 4000], "reverse": true, "nice": false, "zero": false}},
                      "y": {"datum": 21, "type": "quantitative", "scale": {"domain": [0, 597], "nice": false, "zero": false}, "axis": null},
                      "text": {"field": "label"}}},
        {"data": {"name": "peaks"}, "transform": [{"filter": "datum.side == 'right'"}],
         "mark": {"type": "text", "angle": 270, "align": "left", "baseline": "alphabetic", "dy": 20, "font": "Liberation Sans Narrow, Liberation Sans", "fontSize": 19, "color": "#000000"},
         "encoding": {"x": {"field": "wn", "type": "quantitative", "scale": {"domain": [400, 4000], "reverse": true, "nice": false, "zero": false}},
                      "y": {"datum": 21, "type": "quantitative", "scale": {"domain": [0, 597], "nice": false, "zero": false}, "axis": null},
                      "text": {"field": "label"}}},
        {"data": {"name": "peaks"}, "transform": [{"filter": "datum.side == 'arrow'"}],
         "mark": {"type": "text", "align": "left", "baseline": "alphabetic", "dx": 14.5, "font": "Liberation Sans", "fontSize": 17, "color": "#000000"},
         "encoding": {"x": {"field": "wn", "type": "quantitative", "scale": {"domain": [400, 4000], "reverse": true, "nice": false, "zero": false}},
                      "y": {"datum": 97, "type": "quantitative", "scale": {"domain": [0, 597], "nice": false, "zero": false}, "axis": null},
                      "text": {"field": "label"}}},
        {"data": {"name": "peaks"}, "transform": [{"filter": "datum.side == 'arrow'"}],
         "mark": {"type": "rule", "color": "#4472c4", "strokeWidth": 1.5},
         "encoding": {"x": {"field": "head", "type": "quantitative", "scale": {"domain": [400, 4000], "reverse": true, "nice": false, "zero": false}},
                      "x2": {"field": "tail"},
                      "y": {"datum": 92.3, "type": "quantitative", "scale": {"domain": [0, 597], "nice": false, "zero": false}, "axis": null}}},
        {"data": {"name": "peaks"}, "transform": [{"filter": "datum.side == 'arrow'"}],
         "mark": {"type": "point", "shape": "triangle-left", "filled": true, "color": "#4472c4", "size": 110, "opacity": 1},
         "encoding": {"x": {"field": "head", "type": "quantitative", "scale": {"domain": [400, 4000], "reverse": true, "nice": false, "zero": false}},
                      "y": {"datum": 92.3, "type": "quantitative", "scale": {"domain": [0, 597], "nice": false, "zero": false}, "axis": null}}}
      ]
    },
    {
      "width": 605, "height": 597,
      "title": {"text": "(b)", "orient": "bottom", "anchor": "middle", "font": "Liberation Serif", "fontSize": 22, "fontWeight": "bold", "color": "#000000", "offset": 34},
      "layer": [
        {"data": {"name": "peaks"}, "mark": {"type": "rule", "strokeDash": [4, 3], "color": "#7f7f7f", "strokeWidth": 1.2},
         "encoding": {"x": {"field": "wn", "type": "quantitative", "scale": {"domain": [400, 4000], "reverse": true, "nice": false, "zero": false},
                 "axis": {"title": "Wave number [cm\u22121]", "titleFont": "Liberation Sans", "titleFontSize": 19.5, "titleFontWeight": "normal", "titleColor": "#595959", "titlePadding": 24,
                          "values": [4000, 3400, 2800, 2200, 1600, 1000, 400], "format": "d",
                          "labelFont": "Liberation Sans", "labelFontSize": 19, "labelColor": "#808080", "labelPadding": 15, "labelFlush": false, "labelOverlap": false,
                          "ticks": false, "domainColor": "#595959", "grid": false}}}},
        {"data": {"name": "ticks"},
         "mark": {"type": "tick", "orient": "vertical", "color": "#595959", "thickness": 1, "size": 3, "yOffset": 1.5, "opacity": 1},
         "encoding": {"x": {"field": "wn", "type": "quantitative", "scale": {"domain": [400, 4000], "reverse": true, "nice": false, "zero": false}},
                      "y": {"datum": 0, "type": "quantitative", "scale": {"domain": [0, 597], "nice": false, "zero": false}, "axis": null}}},
        {"data": {"name": "ticks"}, "transform": [{"filter": "datum.major"}],
         "mark": {"type": "tick", "orient": "vertical", "color": "#595959", "thickness": 1, "size": 5, "yOffset": -2.5, "opacity": 1},
         "encoding": {"x": {"field": "wn", "type": "quantitative", "scale": {"domain": [400, 4000], "reverse": true, "nice": false, "zero": false}},
                      "y": {"datum": 0, "type": "quantitative", "scale": {"domain": [0, 597], "nice": false, "zero": false}, "axis": null}}},
        {"data": {"name": "spectra"}, "transform": [{"filter": "datum.panel == 'F2'"}],
         "mark": {"type": "line", "color": "#2e75b6", "strokeWidth": 2.6, "strokeJoin": "round", "strokeCap": "round", "interpolate": "monotone"},
         "encoding": {
           "x": {"field": "wn", "type": "quantitative", "scale": {"domain": [400, 4000], "reverse": true, "nice": false, "zero": false}},
           "y": {"field": "T", "type": "quantitative", "scale": {"domain": [0, 597], "nice": false, "zero": false}, "axis": null},
           "detail": {"field": "sample"}
         }},
        {"data": {"name": "labels"}, "transform": [{"filter": "datum.panel == 'F2'"}],
         "mark": {"type": "text", "align": "left", "baseline": "middle", "font": "Lato", "fontSize": 17.7, "color": "#000000"},
         "encoding": {"x": {"field": "wn", "type": "quantitative", "scale": {"domain": [400, 4000], "reverse": true, "nice": false, "zero": false}},
                      "y": {"field": "T", "type": "quantitative", "scale": {"domain": [0, 597], "nice": false, "zero": false}, "axis": null},
                      "text": {"field": "text"}}},
        {"data": {"name": "tags"}, "transform": [{"filter": "datum.panel == 'F2'"}],
         "mark": {"type": "text", "align": "right", "baseline": "middle", "dx": 3, "font": "Lato", "fontSize": 39, "fontWeight": "bold", "color": "#000000"},
         "encoding": {"x": {"field": "wn", "type": "quantitative", "scale": {"domain": [400, 4000], "reverse": true, "nice": false, "zero": false}},
                      "y": {"field": "T", "type": "quantitative", "scale": {"domain": [0, 597], "nice": false, "zero": false}, "axis": null},
                      "text": {"field": "text"}}},
        {"data": {"name": "peaks"}, "transform": [{"filter": "datum.side == 'left'"}],
         "mark": {"type": "text", "angle": 270, "align": "left", "baseline": "alphabetic", "dy": -9, "font": "Liberation Sans Narrow, Liberation Sans", "fontSize": 19, "color": "#000000"},
         "encoding": {"x": {"field": "wn", "type": "quantitative", "scale": {"domain": [400, 4000], "reverse": true, "nice": false, "zero": false}},
                      "y": {"datum": 21, "type": "quantitative", "scale": {"domain": [0, 597], "nice": false, "zero": false}, "axis": null},
                      "text": {"field": "label"}}},
        {"data": {"name": "peaks"}, "transform": [{"filter": "datum.side == 'right'"}],
         "mark": {"type": "text", "angle": 270, "align": "left", "baseline": "alphabetic", "dy": 20, "font": "Liberation Sans Narrow, Liberation Sans", "fontSize": 19, "color": "#000000"},
         "encoding": {"x": {"field": "wn", "type": "quantitative", "scale": {"domain": [400, 4000], "reverse": true, "nice": false, "zero": false}},
                      "y": {"datum": 21, "type": "quantitative", "scale": {"domain": [0, 597], "nice": false, "zero": false}, "axis": null},
                      "text": {"field": "label"}}},
        {"data": {"name": "peaks"}, "transform": [{"filter": "datum.side == 'arrow'"}],
         "mark": {"type": "text", "align": "left", "baseline": "alphabetic", "dx": 14.5, "font": "Liberation Sans", "fontSize": 17, "color": "#000000"},
         "encoding": {"x": {"field": "wn", "type": "quantitative", "scale": {"domain": [400, 4000], "reverse": true, "nice": false, "zero": false}},
                      "y": {"datum": 98, "type": "quantitative", "scale": {"domain": [0, 597], "nice": false, "zero": false}, "axis": null},
                      "text": {"field": "label"}}},
        {"data": {"name": "peaks"}, "transform": [{"filter": "datum.side == 'arrow'"}],
         "mark": {"type": "rule", "color": "#4472c4", "strokeWidth": 1.5},
         "encoding": {"x": {"field": "head", "type": "quantitative", "scale": {"domain": [400, 4000], "reverse": true, "nice": false, "zero": false}},
                      "x2": {"field": "tail"},
                      "y": {"datum": 92.3, "type": "quantitative", "scale": {"domain": [0, 597], "nice": false, "zero": false}, "axis": null}}},
        {"data": {"name": "peaks"}, "transform": [{"filter": "datum.side == 'arrow'"}],
         "mark": {"type": "point", "shape": "triangle-left", "filled": true, "color": "#4472c4", "size": 110, "opacity": 1},
         "encoding": {"x": {"field": "head", "type": "quantitative", "scale": {"domain": [400, 4000], "reverse": true, "nice": false, "zero": false}},
                      "y": {"datum": 92.3, "type": "quantitative", "scale": {"domain": [0, 597], "nice": false, "zero": false}, "axis": null}}}
      ]
    }
  ]
}
